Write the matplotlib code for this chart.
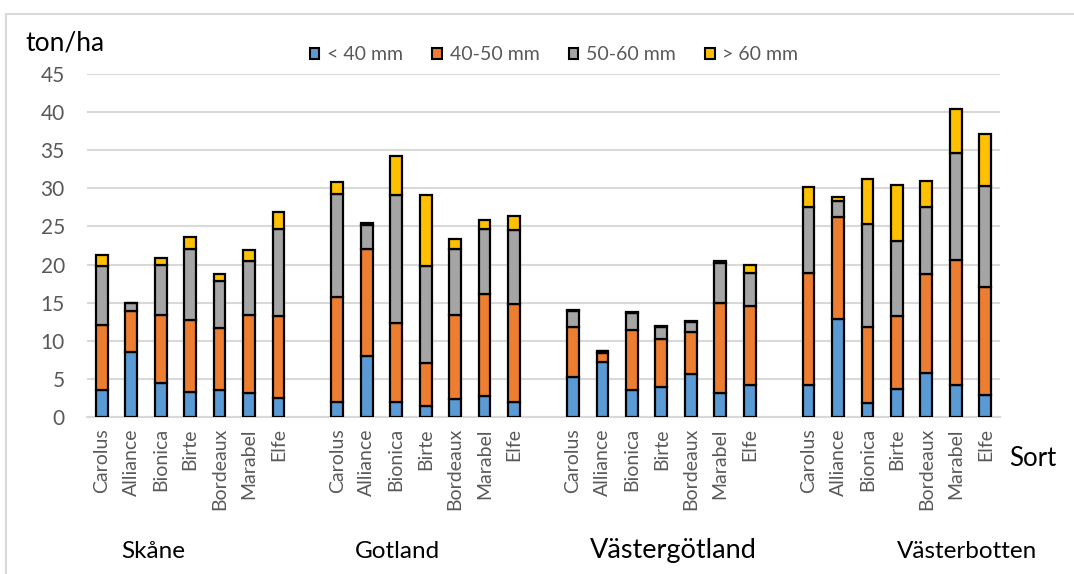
import matplotlib
matplotlib.use("Agg")
import matplotlib.pyplot as plt
from matplotlib.patches import Rectangle, Patch

plt.rcParams['font.family'] = ['Lato', 'DejaVu Sans']

regions = ['Skåne', 'Gotland', 'Västergötland', 'Västerbotten']
varieties = ['Carolus', 'Alliance', 'Bionica', 'Birte', 'Bordeaux', 'Marabel', 'Elfe']
classes = ['< 40 mm', '40-50 mm', '50-60 mm', '> 60 mm']

# ton/ha per size class, 7 varieties per region in the order above
lt40 = [3.5, 8.5, 4.5, 3.3, 3.6, 3.1, 2.5,
        2.0, 8.0, 2.0, 1.5, 2.4, 2.7, 2.0,
        5.2, 7.2, 3.6, 4.0, 5.7, 3.1, 4.2,
        4.2, 12.8, 1.8, 3.7, 5.8, 4.2, 2.9]
s40_50 = [8.6, 5.4, 8.9, 9.4, 8.1, 10.3, 10.7,
          13.8, 14.1, 10.3, 5.6, 11.0, 13.5, 12.8,
          6.6, 1.2, 7.8, 6.2, 5.5, 11.8, 10.3,
          14.7, 13.5, 10.0, 9.5, 12.9, 16.4, 14.1]
s50_60 = [7.7, 1.1, 6.6, 9.3, 6.1, 7.1, 11.4,
          13.4, 3.1, 16.8, 12.7, 8.7, 8.5, 9.7,
          2.1, 0.2, 2.3, 1.6, 1.3, 5.3, 4.4,
          8.6, 2.1, 13.5, 9.9, 8.8, 14.0, 13.3]
gt60 = [1.4, 0.0, 0.9, 1.6, 0.9, 1.4, 2.3,
        1.6, 0.2, 5.1, 9.3, 1.2, 1.2, 1.9,
        0.2, 0.1, 0.1, 0.1, 0.1, 0.3, 1.0,
        2.7, 0.4, 5.9, 7.3, 3.5, 5.8, 6.8]

colors = ['#5B9BD5', '#ED7D31', '#A5A5A5', '#FFC000']
series = [lt40, s40_50, s50_60, gt60]

W, H = 1074, 574
fig = plt.figure(figsize=(W / 100, H / 100), dpi=100)
ax = fig.add_axes([87 / W, 157 / H, 913 / W, 343 / H])

# one empty slot between regions
pos = []
for g in range(len(regions)):
    for i in range(len(varieties)):
        pos.append(g * (len(varieties) + 1) + i)

bottom = [0.0] * len(pos)
for vals, c in zip(series, colors):
    ax.bar(pos, vals, width=0.4, bottom=bottom, color=c,
           edgecolor='black', linewidth=1.6, zorder=3)
    bottom = [b + v for b, v in zip(bottom, vals)]

ax.set_xlim(-0.5, 30.5)
ax.set_ylim(0, 45)
ax.set_yticks(range(0, 46, 5))
ax.yaxis.grid(True, color='#D9D9D9', linewidth=1.5, zorder=0)
ax.set_axisbelow(True)
for s in ['top', 'right', 'left']:
    ax.spines[s].set_visible(False)
ax.spines['bottom'].set_color('#D9D9D9')
ax.spines['bottom'].set_linewidth(1.5)

ax.set_xticks(pos)
ax.set_xticklabels(varieties * len(regions), rotation=90, fontsize=14,
                   color='#595959')
ax.tick_params(axis='x', length=0, pad=8)
ax.tick_params(axis='y', length=0, labelsize=15, labelcolor='#595959', pad=16)

fig.text(25 / W, 1 - 50 / H, 'ton/ha', fontsize=19, va='baseline',
         color='black')
fig.text(1009 / W, 1 - 466 / H, 'Sort', fontsize=18.5, va='baseline',
         color='black')

label_x = [153, 397, 673, 967]
label_size = [17.5, 17.5, 19.5, 17.5]
for name, lx, fs in zip(regions, label_x, label_size):
    fig.text(lx / W, 1 - 558 / H, name, fontsize=fs, ha='center',
             va='baseline', color='black')

handles = [Patch(facecolor=c, edgecolor='black', linewidth=1.5) for c in colors]
leg = fig.legend(handles, classes, loc='center', ncol=4, frameon=False,
                 bbox_to_anchor=(554 / W, 1 - 55 / H), fontsize=14,
                 handlelength=0.5, handleheight=0.5, handletextpad=0.4,
                 columnspacing=1.5)
for t in leg.get_texts():
    t.set_color('#595959')

# chart border (top and left edges visible)
fig.patches.append(Rectangle((5.5 / W, -0.1), 1.2, 1.1 - 14 / H,
                             transform=fig.transFigure, fill=False,
                             edgecolor='#D9D9D9', linewidth=1.5))

fig.savefig('out.png', dpi=100)
